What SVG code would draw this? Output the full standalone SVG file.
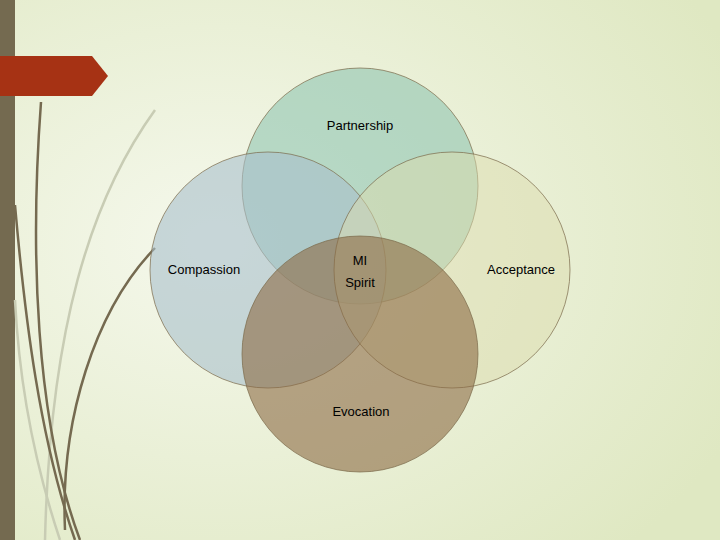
<svg xmlns="http://www.w3.org/2000/svg" width="720" height="540" viewBox="0 0 720 540">
<defs>
<radialGradient id="bg" cx="0.3" cy="0.45" r="0.8"><stop offset="0" stop-color="#f5f8ec"/><stop offset="1" stop-color="#dfe8c2"/></radialGradient>
<style>
.c{stroke:#7a6a4a;stroke-width:1;stroke-opacity:0.7}
.t{font-family:"Liberation Sans",Arial,sans-serif;font-size:13px;fill:#000;text-anchor:middle}
.d{fill:none;stroke:#756a50;stroke-width:2.5}
.l{fill:none;stroke:#c8ccb4;stroke-width:2.5}
</style>
</defs>
<rect width="720" height="540" fill="url(#bg)"/>
<rect x="0" y="0" width="15" height="540" fill="#746a50"/>
<path class="l" d="M155 110 C90 200 50 330 45 540"/>
<path class="l" d="M15 300 C20 400 40 480 60 540"/>
<path class="d" d="M41 102 C30 250 35 420 80 540"/>
<path class="d" d="M15 205 C25 320 40 440 75 540"/>
<path class="d" d="M155 248 C95 310 60 420 65 530"/>
<path d="M0 56 H92 L108 76 L92 96 H0 Z" fill="#a63214"/>
<g id="partnership"><circle class="c" cx="360" cy="186" r="118" fill="#8fc4b0" fill-opacity="0.6"/></g>
<g id="compassion"><circle class="c" cx="268" cy="270" r="118" fill="#a9bfcc" fill-opacity="0.6"/></g>
<g id="acceptance"><circle class="c" cx="452" cy="270" r="118" fill="#dcdcae" fill-opacity="0.5"/></g>
<g id="evocation"><circle class="c" cx="360" cy="354" r="118" fill="#8c6a45" fill-opacity="0.6"/></g>
<g id="connectors"></g>
<text class="t" x="360" y="130">Partnership</text>
<text class="t" x="204" y="274">Compassion</text>
<text class="t" x="521" y="274">Acceptance</text>
<text class="t" x="361" y="416">Evocation</text>
<text class="t" x="360" y="265" font-size="16">MI</text>
<text class="t" x="360" y="287" font-size="16">Spirit</text>
</svg>
